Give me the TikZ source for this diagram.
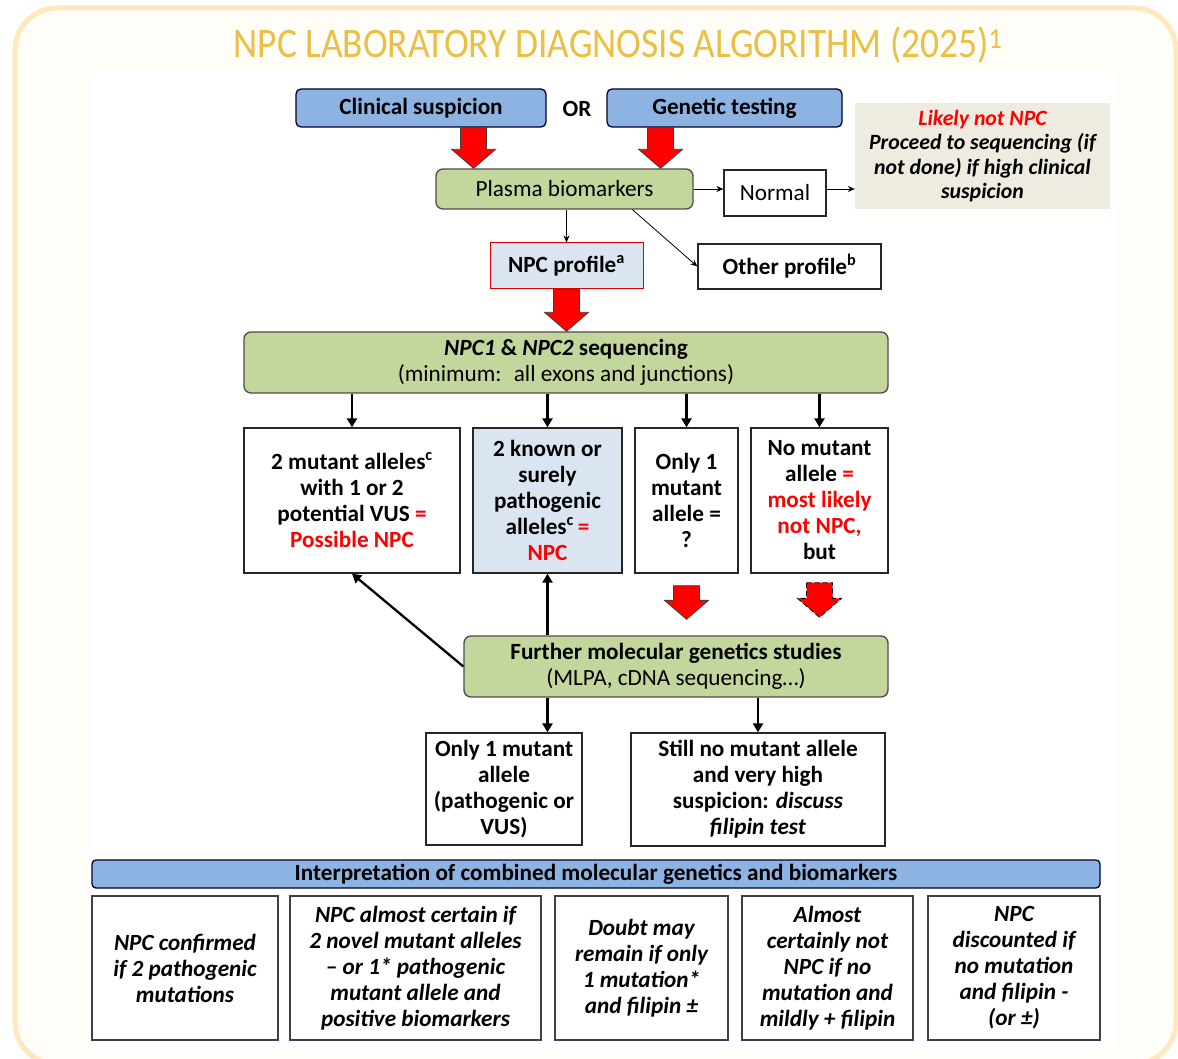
\documentclass[tikz,border=0pt]{standalone}
\usepackage{fontspec}
\setmainfont{Carlito}
\usetikzlibrary{calc,arrows.meta}
\definecolor{bluebox}{HTML}{8DB3E2}
\definecolor{greenbox}{HTML}{C3D69B}
\definecolor{beigebox}{HTML}{EEECE1}
\definecolor{lightblue}{HTML}{DBE5F1}
\definecolor{titlegold}{HTML}{E9BF45}
\definecolor{frameorange}{HTML}{FFE8BE}
\definecolor{framefill}{HTML}{FFFDF8}
\definecolor{npcred}{HTML}{FF0000}
\newcommand\fs{\fontsize{23.2}{26}\selectfont}
\newcommand\fsb{\fontsize{21.8}{24.3}\selectfont}
\newcommand\rd[1]{\textcolor{npcred}{#1}}
\newcommand\blockarrow[3][]{%
  \path[draw=black!75, fill=npcred, line width=0.8pt, line join=miter, #1]
   let \p1=(#2), \p2=(#3) in
   (\x1-13pt,\y1) -- (\x1+13pt,\y1) -- (\x1+13pt,\y2+19pt) -- (\x1+22pt,\y2+19pt)
   -- (\x1,\y2) -- (\x1-22pt,\y2+19pt) -- (\x1-13pt,\y2+19pt) -- cycle;}
\begin{document}
\begin{tikzpicture}[x=1pt,y=-1pt,
  base/.style={draw=black!85, line width=1.3pt, inner sep=0pt, align=center, font=\fs\bfseries},
  bluebar/.style={base, fill=bluebox, rounded corners=5pt, draw=black!70!blue!60!black},
  greenbar/.style={base, fill=greenbox, rounded corners=7pt, draw=black!70},
  whitebox/.style={base, fill=white},
  interp/.style={base, fill=white, draw=black!75, font=\fs\bfseries\itshape},
  thinarrow/.style={-{Stealth[length=7pt,width=6pt]}, line width=0.8pt},
  thickarrow/.style={-{Triangle[length=9pt,width=10pt]}, line width=2.3pt},
]
% frame
\useasboundingbox (0,0) rectangle (1178,1059);
\fill[white] (0,0) rectangle (1178,1059);
\draw[frameorange, line width=5pt, fill=framefill, rounded corners=42pt] (15,8) rectangle (1176,1064);
\fill[white] (90,72) rectangle (1118,1050);
% title
\node[font=\fontsize{42}{48}\selectfont, text=titlegold, inner sep=0pt] (title) at (618,45)
  {\scalebox{0.89}[1]{NPC LABORATORY DIAGNOSIS ALGORITHM (2025)\textsuperscript{1}}};
% top
\node[bluebar, minimum width=250pt, minimum height=38pt] (cs) at (421,108) {Clinical suspicion};
\node[font=\fs\bfseries, inner sep=0pt] (or) at (577,109) {OR};
\node[bluebar, minimum width=235pt, minimum height=38pt] (gt) at (724.5,108) {Genetic testing};
\node[greenbar, minimum width=257pt, minimum height=40pt, font=\fs] (pb) at (564.5,189) {Plasma biomarkers};
\node[whitebox, minimum width=102pt, minimum height=46pt, font=\fs] (normal) at (775,193) {Normal};
\node[fill=beigebox, minimum width=255pt, minimum height=106pt, inner sep=0pt, align=center,
      font=\fsb\bfseries\itshape] (beige) at (982.5,156)
  {\rd{Likely not NPC}\\ Proceed to sequencing (if\\ not done) if high clinical\\ suspicion};
\node[base, fill=lightblue, draw=npcred!85!black, line width=1pt, minimum width=153pt, minimum height=46pt] (npc) at (566.5,266) {NPC profile\textsuperscript{a}};
\node[whitebox, minimum width=183pt, minimum height=45pt] (other) at (789.5,266.5) {Other profile\textsuperscript{b}};
% sequencing
\node[greenbar, minimum width=644pt, minimum height=61pt] (seq) at (566,362.5)
  {\textit{NPC1} \& \textit{NPC2} sequencing\\ {\mdseries (minimum:~ all exons and junctions)}};
% result boxes
\node[whitebox, minimum width=216pt, minimum height=145pt] (b1) at (352,500.5)
  {2 mutant alleles\textsuperscript{c}\\ with 1 or 2\\ potential VUS \rd{=}\\ \rd{Possible NPC}};
\node[whitebox, fill=lightblue, minimum width=149pt, minimum height=145pt] (b2) at (547.5,500.5)
  {2 known or\\ surely\\ pathogenic\\ alleles\textsuperscript{c}\,\rd{=}\\ \rd{NPC}};
\node[whitebox, minimum width=103pt, minimum height=145pt] (b3) at (686.5,500.5)
  {Only 1\\ mutant\\ allele =\\ ?};
\node[whitebox, minimum width=137pt, minimum height=145pt] (b4) at (819.5,500.5)
  {No mutant\\ allele \rd{=}\\ \rd{most likely}\\ \rd{not NPC,}\\ but};
% further
\node[greenbar, minimum width=424pt, minimum height=61pt] (fur) at (676,666.5)
  {Further molecular genetics studies\\ {\mdseries (MLPA, cDNA sequencing\ldots)}};
\node[whitebox, minimum width=156pt, minimum height=112pt] (only1) at (504,789)
  {Only 1 mutant\\ allele\\ (pathogenic or\\ VUS)};
\node[whitebox, minimum width=254pt, minimum height=113pt] (still) at (758,789.5)
  {Still no mutant allele\\ and very high\\ suspicion: \textit{discuss}\\ \textit{filipin test}};
% interpretation
\node[bluebar, rounded corners=4pt, minimum width=1008pt, minimum height=28pt] (ibar) at (596,874)
  {Interpretation of combined molecular genetics and biomarkers};
\node[interp, minimum width=186pt, minimum height=144pt] (i1) at (185,968)
  {NPC confirmed\\ if 2 pathogenic\\ mutations};
\node[interp, minimum width=251pt, minimum height=144pt] (i2) at (415.5,968)
  {NPC almost certain if\\ 2 novel mutant alleles\\ -- or 1* pathogenic\\ mutant allele and\\ positive biomarkers};
\node[interp, minimum width=173pt, minimum height=144pt] (i3) at (641.5,968)
  {Doubt may\\ remain if only\\ 1 mutation*\\ and filipin ±};
\node[interp, minimum width=171pt, minimum height=144pt] (i4) at (827.5,968)
  {Almost\\ certainly not\\ NPC if no\\ mutation and\\ mildly + filipin};
\node[interp, minimum width=172pt, minimum height=144pt] (i5) at (1014,968)
  {NPC\\ discounted if\\ no mutation\\ and filipin -\\ (or ±)};
% block arrows
\coordinate (r1e) at ($(pb.north west)!0.148!(pb.north east)$);
\coordinate (r1s) at (r1e |- cs.south);
\blockarrow{r1s}{r1e}
\coordinate (r2e) at ($(pb.north west)!0.872!(pb.north east)$);
\coordinate (r2s) at (r2e |- gt.south);
\blockarrow{r2s}{r2e}
\coordinate (r3s) at (npc.south);
\coordinate (r3e) at (seq.north -| npc.south);
\blockarrow{r3s}{r3e}
\coordinate (r4s) at ($(b3.south)+(0,12)$);
\coordinate (r4e) at ($(fur.north -| b3.south)+(0,-16)$);
\blockarrow{r4s}{r4e}
\coordinate (r5s) at ($(b4.south)+(0,9)$);
\coordinate (r5e) at ($(fur.north -| b4.south)+(0,-18)$);
\blockarrow[draw=black, dash pattern=on 5pt off 3pt]{r5s}{r5e}
% thin arrows
\draw[thinarrow] (pb.east) -- (pb.east -| normal.west);
\draw[thinarrow] (normal.east |- pb.east) -- (beige.west |- pb.east);
\draw[thinarrow] (pb.south -| npc.north) -- (npc.north);
\draw[thinarrow] ($(pb.south west)!0.763!(pb.south east)$) -- (other.west);
% thick arrows
\foreach \b in {b1,b2,b3,b4}{
  \draw[thickarrow] (seq.south -| \b.north) -- (\b.north);
}
\draw[thickarrow] (fur.west) -- (b1.south);
\draw[thickarrow] (fur.north -| b2.south) -- (b2.south);
\draw[thickarrow] (fur.south -| b2.south) -- (only1.north -| b2.south);
\draw[thickarrow] (fur.south -| still.north) -- (still.north);
\end{tikzpicture}
\end{document}
